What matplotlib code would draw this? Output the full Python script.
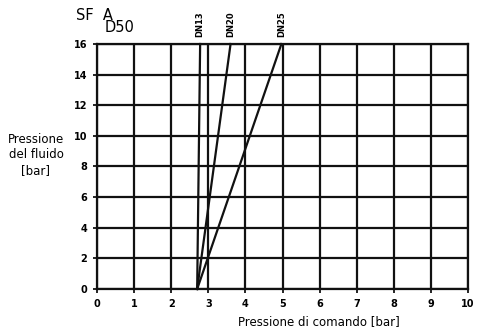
import matplotlib
matplotlib.use("Agg")
import matplotlib.pyplot as plt

# Data
series_names = ["DN13", "DN20", "DN25"]
x_start = [2.7, 2.7, 2.7]
x_end = [2.78, 3.6, 4.97]
y_start = [0, 0, 0]
y_end = [16, 16, 16]
x_ticks = list(range(0, 11))
y_ticks = list(range(0, 17, 2))

fig = plt.figure(figsize=(4.78, 3.31), dpi=100)
ax = fig.add_axes([97/478, 1-289/331, (468-97)/478, (289-44)/331])
ax.set_xlim(0, 10)
ax.set_ylim(0, 16)
ax.set_xticks(x_ticks)
ax.set_yticks(y_ticks)
ax.grid(True, color="#111111", linewidth=1.6)
for s in ax.spines.values():
    s.set_linewidth(1.6)
    s.set_color("#111111")
ax.tick_params(direction="out", length=3, width=1.2, labelsize=7, pad=4)
for lab in ax.get_xticklabels() + ax.get_yticklabels():
    lab.set_fontweight("bold")

for name, xs, xe, ys, ye in zip(series_names, x_start, x_end, y_start, y_end):
    ax.plot([xs, xe], [ys, ye], color="#111111", linewidth=1.6, clip_on=False)
    ax.annotate(name, xy=(xe, ye), xytext=(0, 5), textcoords="offset points",
                rotation=90, ha="center", va="bottom", fontsize=6, fontweight="bold")

fig.text(76/478, 1-16/331, "SF  A", fontsize=10.5, ha="left", va="center")
fig.text(105/478, 1-28/331, "D50", fontsize=10.5, ha="left", va="center")
fig.text(36/478, 1-155/331, "Pressione\ndel fluido\n[bar]", fontsize=8.5,
         ha="center", va="center", linespacing=1.25)
fig.text(319/478, 1-322/331, "Pressione di comando [bar]", fontsize=8.5,
         ha="center", va="center")

fig.savefig("out.png", dpi=100)
